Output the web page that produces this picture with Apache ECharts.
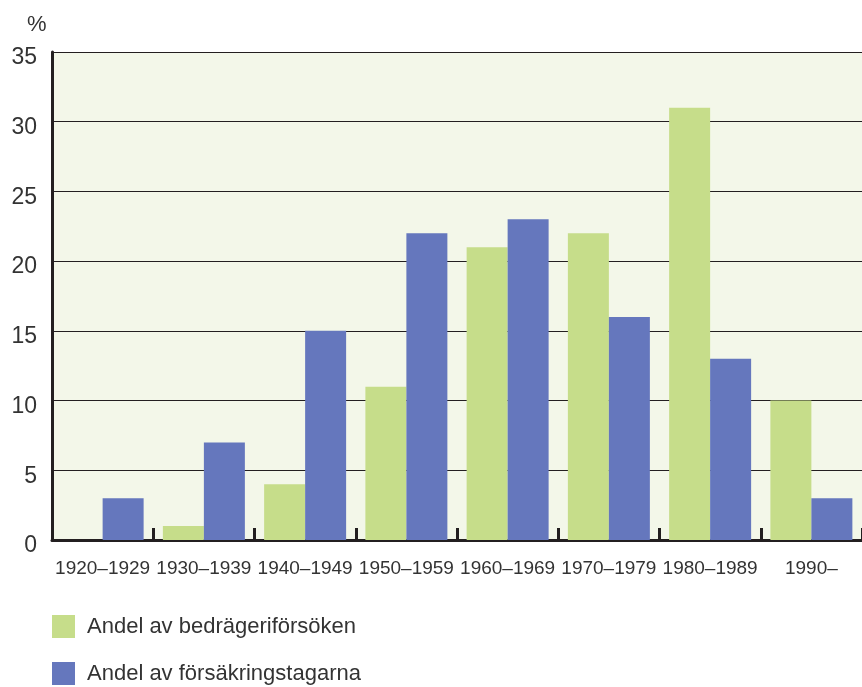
<!DOCTYPE html>
<html>
<head>
<meta charset="utf-8">
<script src="https://cdn.jsdelivr.net/npm/echarts@6/dist/echarts.min.js"></script>
<style>
html,body{margin:0;padding:0;background:#fff;}
#chart{width:862px;height:687px;}
</style>
</head>
<body>
<div id="chart"></div>
<script>
const categories = ['1920–1929','1930–1939','1940–1949','1950–1959','1960–1969','1970–1979','1980–1989','1990–'];
const bedrageriforsoken = [0, 1, 4, 11, 21, 22, 31, 10];
const forsakringstagarna = [3, 7, 15, 22, 23, 16, 13, 3];
const seriesNames = ['Andel av bedrägeriförsöken', 'Andel av försäkringstagarna'];
const yTicks = [0, 5, 10, 15, 20, 25, 30, 35];

const FONT = '"Liberation Sans", Arial, sans-serif';
const legendBase = {
  orient: 'vertical', left: 52, itemWidth: 23, itemHeight: 23, padding: 0,
  icon: 'rect', formatter: '{t|{name}}',
  textStyle: {fontSize: 22, color: '#333', fontFamily: FONT,
    rich: {t: {fontSize: 22, color: '#333', fontFamily: FONT, padding: [0, 0, 0, 7]}}}
};
const chart = echarts.init(document.getElementById('chart'), null, {renderer: 'canvas'});
chart.setOption({
  animation: false,
  textStyle: {fontFamily: FONT},
  grid: {left: 52, right: 0, top: 52, height: 488, show: true, backgroundColor: '#f3f7e9', borderWidth: 0},
  graphic: [{type: 'text', left: 27, top: 14, style: {text: '%', font: '22px ' + FONT, fill: '#333'}}],
  legend: [
    Object.assign({}, legendBase, {top: 615, data: [seriesNames[0]]}),
    Object.assign({}, legendBase, {top: 662, data: [seriesNames[1]]})
  ],
  xAxis: {
    type: 'category', data: categories,
    axisLine: {lineStyle: {color: '#231f20', width: 3}},
    axisTick: {show: true, inside: true, length: 12, lineStyle: {color: '#231f20', width: 3}},
    axisLabel: {fontSize: 19, color: '#333', margin: 19, interval: 0}
  },
  yAxis: {
    type: 'value', min: yTicks[0], max: yTicks[yTicks.length-1], interval: 5,
    axisLine: {show: true, lineStyle: {color: '#231f20', width: 3}},
    axisTick: {show: false},
    axisLabel: {
      color: '#333', margin: 15,
      formatter: '{v|{value}}',
      rich: {v: {fontSize: 23, color: '#333', fontFamily: FONT, padding: [12, 0, 0, 0]}}
    },
    splitLine: {lineStyle: {color: '#231f20', width: 1}}
  },
  series: [
    {name: seriesNames[0], type: 'bar', data: bedrageriforsoken, barWidth: 41, barGap: '0%', itemStyle: {color: '#c6dd8a'}},
    {name: seriesNames[1], type: 'bar', data: forsakringstagarna, barWidth: 41, barGap: '0%', itemStyle: {color: '#6577bd'}}
  ]
});
</script>
</body>
</html>
